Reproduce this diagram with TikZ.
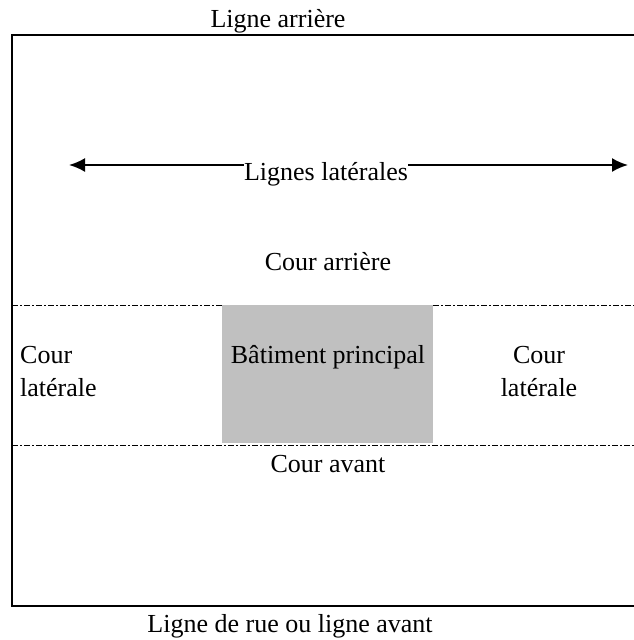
\documentclass[tikz,border=0pt]{standalone}
\usepackage{fontspec}
\setmainfont{Liberation Serif}
\usetikzlibrary{arrows.meta, positioning}

\definecolor{batgris}{RGB}{192,192,192}

\begin{document}
\begin{tikzpicture}[x=1pt, y=-1pt, font=\fontsize{26}{33}\selectfont,
    limite/.style = {line width=2pt},
    cour/.style = {align=center, inner sep=0pt, anchor=base},
    separation/.style = {line width=1pt, dash pattern=on 6pt off 2pt on 2pt off 2pt}]
  \useasboundingbox (0,0) rectangle (634,640);
  % terrain
  \fill[batgris] (222,305) rectangle (433,443);
  \draw[limite] (634,35) -- (12,35) -- (12,606) -- (634,606);
  \draw[separation] (12,305) -- (222,305);
  \draw[separation] (433,305) -- (634,305);
  \draw[separation] (12,445) -- (634,445);
  % textes
  \node[cour] (arr) at (278,27) {Ligne arrière};
  \node[cour] (rue) at (290,632) {Ligne de rue ou ligne avant};
  \node[cour] (lat) at (326,180) {Lignes latérales};
  \node[cour] (ca) at (328,270) {Cour arrière};
  \node[cour] (bat) at (328,363) {Bâtiment principal};
  \node[cour, align=left, anchor=west] (cg) at (20,372) {Cour\\latérale};
  \node[cour, anchor=center] (cd) at (539,372) {Cour\\latérale};
  \node[cour] (cav) at (328,472) {Cour avant};
  % fleches
  \coordinate (g) at (69,165);
  \coordinate (d) at (628,165);
  \draw[limite, -{Latex[length=16pt, width=14pt]}] (lat.west |- g) -- (g);
  \draw[limite, -{Latex[length=16pt, width=14pt]}] (lat.east |- d) -- (d);
\end{tikzpicture}
\end{document}
